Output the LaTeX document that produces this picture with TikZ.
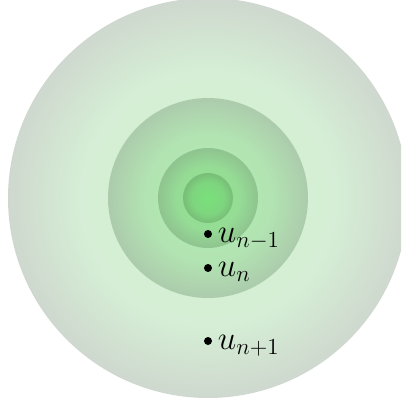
\documentclass[tikz,border=0pt]{standalone}
\usepackage{amsmath,amssymb}
\usetikzlibrary{positioning}

\definecolor{ballin}{RGB}{30,205,30}
\definecolor{ballmid}{RGB}{45,170,45}
\definecolor{ballout}{RGB}{12,60,12}
\pgfdeclareradialshading{nestball}{\pgfpointorigin}{%
    color(0bp)=(ballin); color(16bp)=(ballmid); color(25bp)=(ballout); color(50bp)=(ballout)}

\tikzset{
    ballshade/.style={shading=nestball, opacity=0.2},
    seqpt/.style={circle, fill=black, inner sep=0pt, minimum size=1.6mm},
    seqlabel/.style={font=\LARGE, scale=1.09, transform shape, inner sep=0pt, anchor=base west}
}

\begin{document}
\begin{tikzpicture}
    \clip (-4.16,-4.12) rectangle (3.86,3.96);

    % Palle annidate
    \foreach \r in {4,2,1,0.5}
        \shade[ballshade] (0,0) circle (\r);

    % Termini della successione
    \node[seqpt] (un1) at (0,-0.72) {};
    \node[seqpt] (un) at (0,-1.4) {};
    \node[seqpt] (unp) at (0,-2.86) {};
    \node[seqlabel] (lun1) at ([xshift=0.19cm, yshift=-0.17cm]un1.center) {$u_{n-1}$};
    \node[seqlabel] (lun) at ([xshift=0.19cm, yshift=-0.17cm]un.center) {$u_{n}$};
    \node[seqlabel] (lunp) at ([xshift=0.19cm, yshift=-0.17cm]unp.center) {$u_{n+1}$};
\end{tikzpicture}
\end{document}
